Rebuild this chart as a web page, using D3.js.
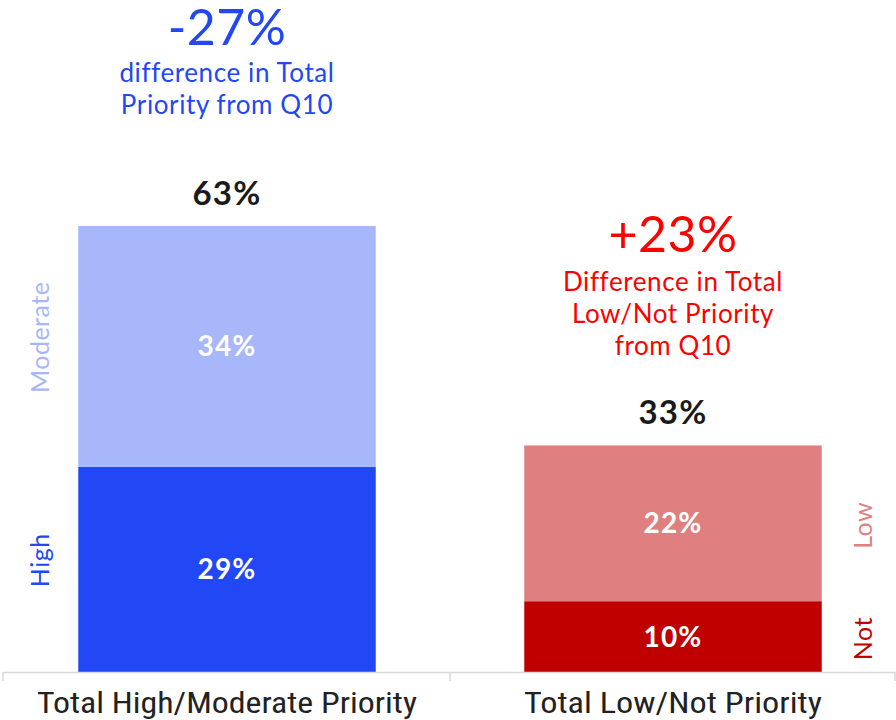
<!DOCTYPE html>
<html>
<head>
<meta charset="utf-8">
<script src="https://cdn.jsdelivr.net/npm/d3@7"></script>
<style>
  html, body { margin: 0; padding: 0; background: #ffffff; }
  svg { display: block; }
</style>
</head>
<body>
<svg id="chart" width="896" height="720"></svg>
<script>
// Priority groups shown as stacked bars
const categories = ["Total High/Moderate Priority", "Total Low/Not Priority"];
// Segment values (bottom segment first)
const bottomValues = [29, 10];
const topValues = [34, 22];
const bottomNames = ["High", "Not"];
const topNames = ["Moderate", "Low"];
const totals = [63, 33];
// Change callouts above each bar
const changeValues = ["-27%", "+23%"];
const changeNotes = [
  ["difference in Total", "Priority from Q10"],
  ["Difference in Total", "Low/Not Priority", "from Q10"]
];

const bottomColors = ["#2148f4", "#c00000"];
const topColors = ["#a7b7fa", "#df7f7f"];
const calloutColors = ["#2148f4", "#ff0000"];

const svg = d3.select("#chart");
const headFont = "Lato, 'Noto Sans', sans-serif";

const x = d3.scaleBand().domain(categories).range([4, 896]).paddingInner(0.333).paddingOuter(0.1665);
const y = d3.scaleLinear().domain([0, 63]).range([672, 226]);

const rows = categories.map((c, i) => ({
  cat: c, i,
  bottom: bottomValues[i], top: topValues[i],
  total: totals[i]
}));

// stacked segments
const series = d3.stack().keys(["bottom", "top"])(rows);
const colorsFor = { bottom: bottomColors, top: topColors };
const segments = series.flatMap(s => s.map(d => ({ key: s.key, d })));

svg.append("g").selectAll("rect")
  .data(segments)
  .join("rect")
  .attr("x", o => x(o.d.data.cat))
  .attr("width", x.bandwidth())
  .attr("y", o => y(o.d[1]))
  .attr("height", o => y(o.d[0]) - y(o.d[1]))
  .attr("fill", o => colorsFor[o.key][o.d.data.i]);

// segment value labels
svg.append("g").selectAll("text")
  .data(segments)
  .join("text")
  .attr("x", o => x(o.d.data.cat) + x.bandwidth() / 2)
  .attr("y", o => (y(o.d[0]) + y(o.d[1])) / 2 + 10)
  .attr("text-anchor", "middle")
  .attr("font-family", headFont)
  .attr("font-weight", 700)
  .attr("font-size", 28)
  .attr("letter-spacing", 1.2)
  .attr("fill", "#ffffff")
  .text(o => o.d.data[o.key] + "%");

// side segment names, rotated
const sideLabels = segments.map(o => {
  const i = o.d.data.i;
  return {
    name: o.key === "bottom" ? bottomNames[i] : topNames[i],
    color: o.key === "bottom" ? bottomColors[i] : topColors[i],
    cx: i === 0 ? x(o.d.data.cat) - 38 : x(o.d.data.cat) + x.bandwidth() + 42,
    cy: (y(o.d[0]) + y(o.d[1])) / 2 + (i === 0 ? -9 : 2)
  };
});
svg.append("g").selectAll("text")
  .data(sideLabels)
  .join("text")
  .attr("transform", d => `translate(${d.cx},${d.cy}) rotate(-90)`)
  .attr("text-anchor", "middle")
  .attr("dy", "0.35em")
  .attr("font-family", headFont)
  .attr("font-size", 25)
  .attr("letter-spacing", 0.5)
  .attr("fill", d => d.color)
  .text(d => d.name);

// totals above bars
svg.append("g").selectAll("text")
  .data(rows)
  .join("text")
  .attr("x", d => x(d.cat) + x.bandwidth() / 2)
  .attr("y", (d, i) => y(bottomValues[i] + topValues[i]) - 21)
  .attr("text-anchor", "middle")
  .attr("font-family", headFont)
  .attr("font-weight", 700)
  .attr("font-size", 33)
  .attr("letter-spacing", 1.2)
  .attr("fill", "#1a1a1a")
  .text(d => d.total + "%");

// change callouts
const calloutTop = [45, 252];
rows.forEach((d, i) => {
  const cx = x(d.cat) + x.bandwidth() / 2;
  const g = svg.append("g")
    .attr("fill", calloutColors[i])
    .attr("text-anchor", "middle")
    .attr("font-family", headFont);
  g.append("text")
    .attr("x", cx).attr("y", calloutTop[i])
    .attr("font-size", 50)
    .attr("letter-spacing", 0.5)
    .text(changeValues[i]);
  g.selectAll("text.note")
    .data(changeNotes[i])
    .join("text")
    .attr("class", "note")
    .attr("x", cx)
    .attr("y", (t, k) => calloutTop[i] + (i === 0 ? 37 : 39) + k * 32)
    .attr("font-size", 26)
    .attr("letter-spacing", 0.6)
    .text(t => t);
});

// baseline axis with boundary ticks
const axisG = svg.append("g").attr("stroke", "#d9d9d9").attr("stroke-width", 1.5);
axisG.append("line").attr("x1", 3).attr("x2", 896).attr("y1", 672.5).attr("y2", 672.5);
axisG.selectAll("line.tick")
  .data([3, (x(categories[0]) + x.bandwidth() + x(categories[1])) / 2, 895])
  .join("line")
  .attr("class", "tick")
  .attr("x1", d => d).attr("x2", d => d)
  .attr("y1", 672).attr("y2", 681);

// category labels
const labelWidths = [380, 298];
svg.append("g").selectAll("text")
  .data(categories)
  .join("text")
  .attr("x", d => x(d) + x.bandwidth() / 2)
  .attr("y", 713)
  .attr("text-anchor", "middle")
  .attr("font-family", "'Liberation Sans Narrow', 'Roboto Condensed', Roboto, sans-serif")
  .attr("font-size", 29)
  .attr("textLength", (d, i) => labelWidths[i])
  .attr("lengthAdjust", "spacingAndGlyphs")
  .attr("fill", "#222222")
  .text(d => d);
</script>
</body>
</html>
